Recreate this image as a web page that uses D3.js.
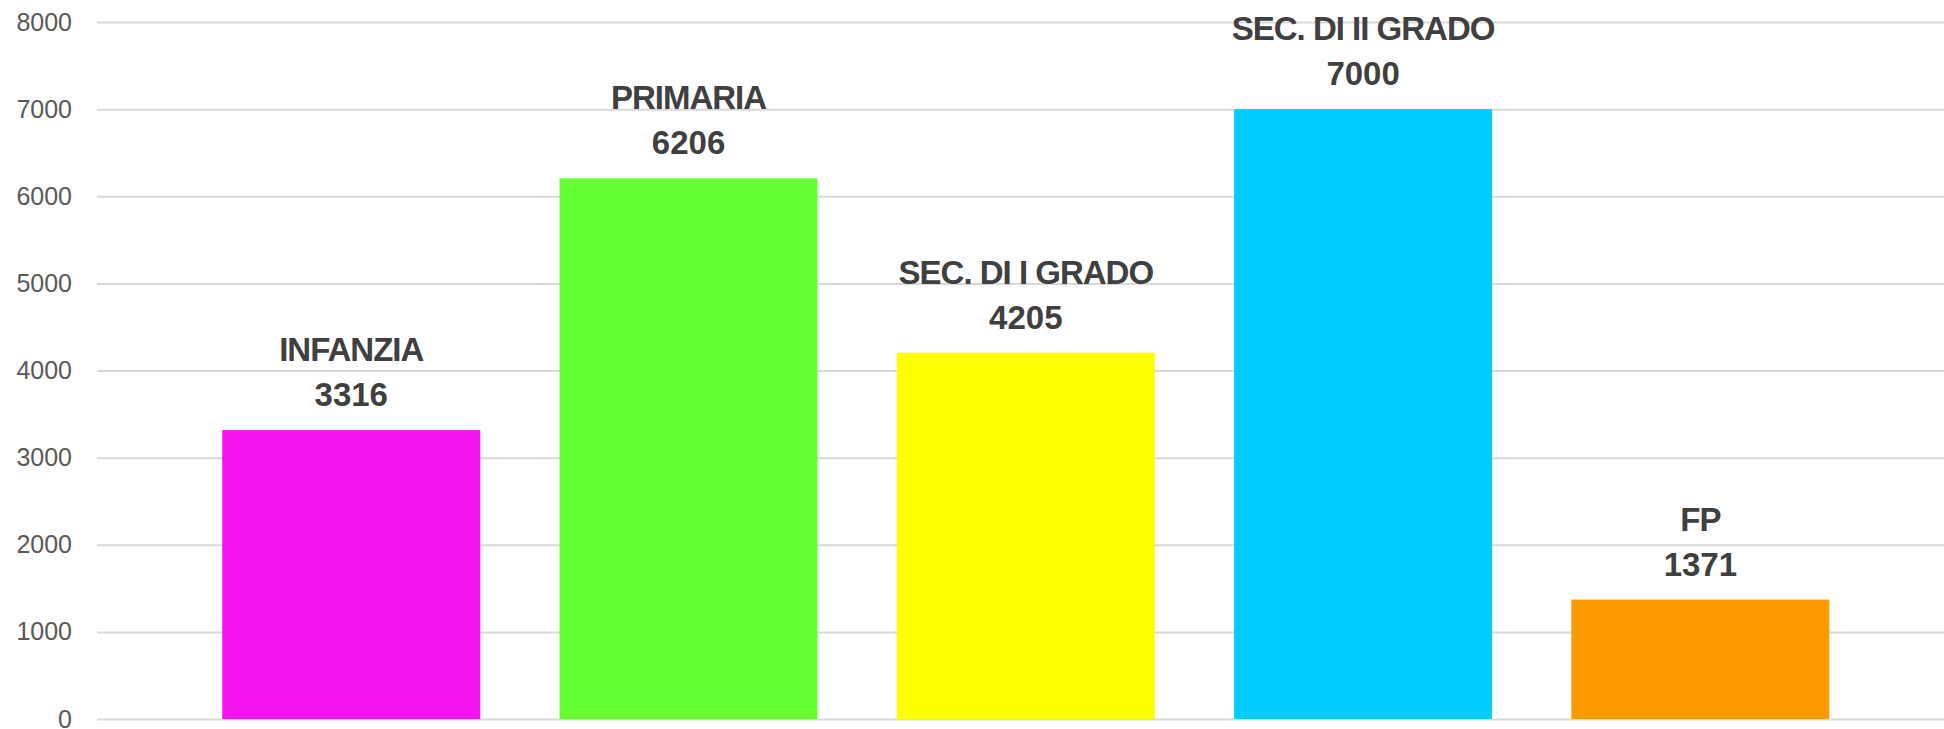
<!DOCTYPE html>
<html>
<head>
<meta charset="utf-8">
<script src="https://cdn.jsdelivr.net/npm/d3@7"></script>
<style>
  body { margin: 0; background: #fff; }
  text { font-family: "Liberation Sans", Arial, sans-serif; }
</style>
</head>
<body>
<script>
const width = 1944;
const height = 729;

// data
const categories = ['INFANZIA', 'PRIMARIA', 'SEC. DI I GRADO', 'SEC. DI II GRADO', 'FP'];
const values = [3316, 6206, 4205, 7000, 1371];
const colors = ['#f514f0', '#66ff33', '#ffff00', '#00ccff', '#ff9900'];
const yTicks = [0, 1000, 2000, 3000, 4000, 5000, 6000, 7000, 8000];

const svg = d3.select('body')
  .append('svg')
  .attr('width', width)
  .attr('height', height);

const y = d3.scaleLinear()
  .domain([0, 8000])
  .range([719, 22]);

const x = d3.scaleBand()
  .domain(categories)
  .range([182.6, 1869])
  .paddingInner(0.235)
  .paddingOuter(0.1175);

// gridlines + tick labels
const yAxis = d3.axisLeft(y)
  .tickValues(yTicks)
  .tickSize(-(width - 97))
  .tickPadding(25)
  .tickFormat(d3.format('d'));

const ga = svg.append('g')
  .attr('transform', 'translate(97,0)')
  .call(yAxis);
ga.select('.domain').remove();
ga.selectAll('.tick line')
  .attr('stroke', '#d9d9d9')
  .attr('stroke-width', 2);
ga.selectAll('.tick text')
  .attr('fill', '#595959')
  .style('font-size', '25px');

const data = categories.map((c, i) => ({ name: c, value: values[i], color: colors[i] }));

svg.append('g')
  .selectAll('rect')
  .data(data)
  .join('rect')
  .attr('x', d => x(d.name))
  .attr('y', d => y(d.value))
  .attr('width', x.bandwidth())
  .attr('height', d => y(0) - y(d.value))
  .attr('fill', d => d.color);

const labels = svg.append('g')
  .selectAll('g')
  .data(data)
  .join('g')
  .attr('transform', d => `translate(${x(d.name) + x.bandwidth() / 2},${y(d.value)})`)
  .attr('text-anchor', 'middle')
  .attr('fill', '#404040')
  .style('font-weight', 'bold')
  .style('font-size', '33px');

labels.append('text')
  .attr('y', -69)
  .style('letter-spacing', '-1px')
  .text(d => d.name);
labels.append('text')
  .attr('y', -24)
  .text(d => d.value);
</script>
</body>
</html>
